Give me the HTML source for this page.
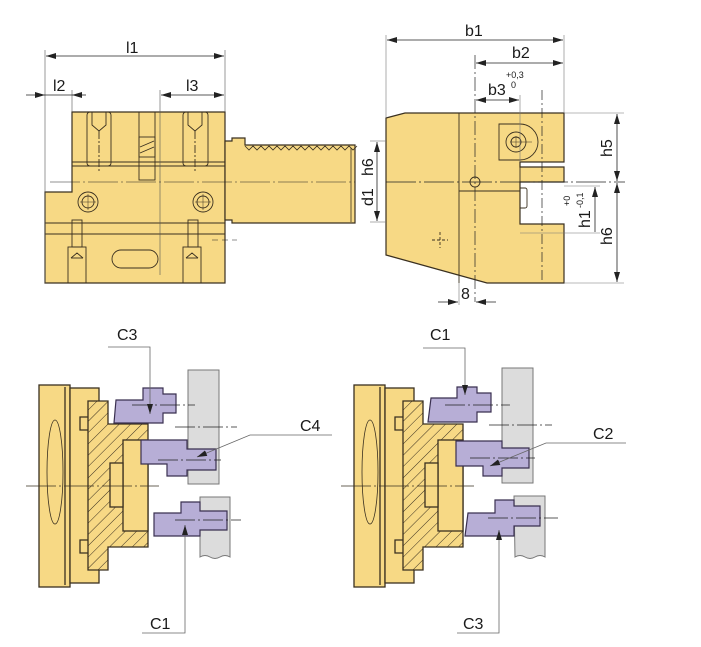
<!DOCTYPE html>
<html><head><meta charset="utf-8"><style>
html,body{margin:0;padding:0;background:#fff}
svg{display:block}
text{font-family:"Liberation Sans",Arial,sans-serif;fill:#1a1a1a}
</style></head><body>
<svg width="701" height="647" viewBox="0 0 701 647" xmlns="http://www.w3.org/2000/svg">
<defs>
<marker id="a" viewBox="0 0 10 6" refX="10" refY="3" markerWidth="10" markerHeight="6" orient="auto-start-reverse" markerUnits="userSpaceOnUse"><path d="M0,0L10,3L0,6z" fill="#222"/></marker>
<pattern id="h" width="8" height="8" patternUnits="userSpaceOnUse" patternTransform="rotate(45)"><rect width="8" height="8" fill="#f7d985"/><line x1="0" y1="0" x2="0" y2="8" stroke="#3a3020" stroke-width="1"/></pattern>
<g id="chuck" stroke="#3a3020" stroke-width="1.3">
 <rect x="39" y="385" width="31" height="202" fill="#f7d985"/>
 <line x1="65" y1="387" x2="65" y2="585"/>
 <rect x="70" y="388" width="29" height="195" fill="#f7d985"/>
 <path d="M88,417H80V430H88M88,540H80V553H88" fill="none"/>
 <path d="M88,401H108V424H148V547H108V570H88Z" fill="url(#h)"/>
 <rect x="123" y="440" width="25" height="91" fill="#f7d985"/>
 <rect x="110" y="463" width="13" height="44" fill="#f7d985"/>
 <line x1="26" y1="486" x2="159" y2="486" stroke-width="0.8" stroke-dasharray="30,3,2,3"/>
 <ellipse cx="55" cy="472" rx="8" ry="52" fill="none" stroke-width="0.8"/>
</g>
</defs>

<!-- ===== TOP LEFT VIEW ===== -->
<g stroke="#3a3020" stroke-width="1.2" fill="#f7d985">
 <path d="M72,112H225V283H45V192H72Z"/>
 <path d="M225,141H232V138H245V145L355,145V223H232V220H225Z"/>
</g>
<path d="M245,146 l4,4 l4,-4 l4,4 l4,-4 l4,4 l4,-4 l4,4 l4,-4 l4,4 l4,-4 l4,4 l4,-4 l4,4 l4,-4 l4,4 l4,-4 l4,4 l4,-4 l4,4 l4,-4 l4,4 l4,-4 l4,4 l4,-4 l4,4 l4,-4 l4,4 l4,-4" fill="none" stroke="#3a3020" stroke-width="0.8"/>
<line x1="351" y1="148" x2="351" y2="222" stroke="#3a3020" stroke-width="0.8"/>
<g stroke="#3a3020" stroke-width="0.9" fill="none">
 <line x1="72" y1="162" x2="225" y2="162"/><line x1="72" y1="166" x2="225" y2="166"/>
 <line x1="45" y1="223" x2="225" y2="223"/><line x1="45" y1="234" x2="225" y2="234"/>
 <rect x="87" y="112" width="24" height="54" rx="3"/><rect x="183" y="112" width="25" height="54" rx="3"/>
 <path d="M92,112V125l7,6l7,-6V112M188,112V125l7,6l7,-6V112"/>
 <line x1="99" y1="131" x2="99" y2="172" stroke-dasharray="8,2,2,2"/><line x1="195" y1="131" x2="195" y2="172" stroke-dasharray="8,2,2,2"/>
 <rect x="139" y="112" width="16" height="68"/><rect x="139" y="137" width="16" height="20"/>
 <path d="M140,147l14,-6M140,153l14,-6"/>
 <circle cx="88" cy="202" r="10"/><circle cx="88" cy="202" r="6"/><circle cx="203" cy="202" r="10"/><circle cx="203" cy="202" r="6"/>
 <path d="M80,202h16M88,194v16M195,202h16M203,194v16" stroke-width="0.5"/>
 <rect x="112" y="250" width="46" height="18" rx="9"/>
 <rect x="68" y="247" width="18" height="36"/><rect x="183" y="247" width="18" height="36"/>
 <rect x="72" y="220" width="10" height="27"/><rect x="188" y="220" width="10" height="27"/>
 <path d="M71,258l6,-5l6,5M186,258l6,-5l6,5"/>
 <line x1="71" y1="258" x2="83" y2="258"/><line x1="186" y1="258" x2="198" y2="258"/>
</g>
<g stroke="#555" stroke-width="0.6" fill="none">
 <line x1="45" y1="50" x2="45" y2="283"/><line x1="225" y1="50" x2="225" y2="112"/>
 <line x1="72" y1="90" x2="72" y2="112"/><line x1="160" y1="90" x2="160" y2="275"/>
 <line x1="50" y1="182" x2="355" y2="182" stroke-dasharray="30,3,2,3" stroke="#222"/>
 <line x1="212" y1="240" x2="237" y2="240" stroke-dasharray="6,4" stroke="#222"/>
</g>
<g stroke="#222" stroke-width="0.8" fill="none">
 <line x1="46" y1="56" x2="224" y2="56" marker-start="url(#a)" marker-end="url(#a)"/>
 <line x1="26" y1="95" x2="45" y2="95" marker-end="url(#a)"/>
 <line x1="72" y1="95" x2="86" y2="95" marker-start="url(#a)"/>
 <line x1="45" y1="95" x2="72" y2="95"/>
 <line x1="161" y1="95" x2="224" y2="95" marker-start="url(#a)" marker-end="url(#a)"/>
</g>
<text x="126" y="53" font-size="16">l1</text>
<text x="53" y="91" font-size="16">l2</text>
<text x="186" y="91" font-size="16">l3</text>

<!-- ===== TOP RIGHT VIEW ===== -->
<path d="M386,118L405,113H564V162H520V167H564V182H520V224H564V283H487L386,255Z" fill="#f7d985" stroke="#3a3020" stroke-width="1.2"/>
<g stroke="#3a3020" stroke-width="0.9" fill="none">
 <line x1="459" y1="113" x2="459" y2="283"/>
 <line x1="459" y1="191" x2="520" y2="191"/>
 <line x1="520" y1="162" x2="520" y2="224"/>
 <path d="M499,124H520a17,17 0 0 1 0,36H499Z"/>
 <circle cx="516" cy="142" r="10"/><circle cx="516" cy="142" r="5"/>
 <path d="M510,142h22M516,136v12" stroke-width="0.5"/>
 <circle cx="475" cy="182" r="5"/>
 <path d="M520,188h5a2,2 0 0 1 2,2v16a2,2 0 0 1 -2,2h-5"/>
 <path d="M432,240h16M440,232v16" stroke-dasharray="3,2"/>
</g>
<g stroke="#222" stroke-width="0.7" fill="none">
 <line x1="475" y1="55" x2="475" y2="302" stroke-dasharray="14,3,2,3"/>
 <line x1="542" y1="90" x2="542" y2="283" stroke-dasharray="10,3,2,3"/>
 <line x1="386" y1="182" x2="625" y2="182" stroke-dasharray="30,3,2,3"/>
</g>
<g stroke="#777" stroke-width="0.6" fill="none">
 <line x1="386" y1="35" x2="386" y2="118"/><line x1="564" y1="35" x2="564" y2="113"/>
 <line x1="520" y1="95" x2="520" y2="162"/>
 <line x1="564" y1="113" x2="624" y2="113"/><line x1="564" y1="283" x2="624" y2="283"/>
 <line x1="520" y1="233" x2="600" y2="233"/><line x1="564" y1="186" x2="600" y2="186"/>
 <line x1="370" y1="141" x2="386" y2="141"/><line x1="370" y1="222" x2="386" y2="222"/>
 <line x1="459" y1="283" x2="459" y2="305"/>
</g>
<g stroke="#222" stroke-width="0.8" fill="none">
 <line x1="387" y1="40" x2="563" y2="40" marker-start="url(#a)" marker-end="url(#a)"/>
 <line x1="476" y1="63" x2="563" y2="63" marker-start="url(#a)" marker-end="url(#a)"/>
 <line x1="476" y1="100" x2="519" y2="100" marker-start="url(#a)" marker-end="url(#a)"/>
 <line x1="617" y1="114" x2="617" y2="181" marker-start="url(#a)" marker-end="url(#a)"/>
 <line x1="617" y1="183" x2="617" y2="282" marker-start="url(#a)" marker-end="url(#a)"/>
 <line x1="595" y1="187" x2="595" y2="232" marker-start="url(#a)"/>
 <line x1="377" y1="142" x2="377" y2="221" marker-start="url(#a)" marker-end="url(#a)"/>
 <line x1="438" y1="302" x2="458" y2="302" marker-end="url(#a)"/>
 <line x1="496" y1="302" x2="476" y2="302" marker-end="url(#a)"/>
</g>
<text x="465" y="36" font-size="16">b1</text>
<text x="512" y="58" font-size="16">b2</text>
<text x="488" y="95" font-size="16">b3</text>
<text x="506" y="78" font-size="9">+0,3</text>
<text x="511" y="88" font-size="9">0</text>
<text x="461" y="299" font-size="16">8</text>
<text font-size="16" transform="translate(612,157) rotate(-90)">h5</text>
<text font-size="16" transform="translate(612,245) rotate(-90)">h6</text>
<text font-size="16" transform="translate(590,228) rotate(-90)">h1</text>
<text font-size="9" transform="translate(570,206) rotate(-90)">+0</text>
<text font-size="9" transform="translate(583,208) rotate(-90)">-0,1</text>
<text font-size="16" transform="translate(373,206) rotate(-90)">d1</text>
<text font-size="16" transform="translate(373,176) rotate(-90)">h6</text>

<!-- ===== BOTTOM LEFT ===== -->
<use href="#chuck"/>
<g stroke="#777" stroke-width="1" fill="#dcdcdc">
 <rect x="188" y="370" width="31" height="114"/>
 <path d="M200,497H230V557q-5,-3 -10,0t-10,0t-10,0Z"/>
</g>
<g stroke="#3a3050" stroke-width="1.2" fill="#b7aed6">
 <path d="M116,400H143V388H163V394H176V413H163V423H114Z"/>
 <path d="M141,440H187V449H216V470H187V476H167V464H141Z"/>
 <path d="M154,513H181V502H200V511H227V530H200V536H154Z"/>
</g>
<g stroke="#222" stroke-width="0.7">
 <line x1="132" y1="405" x2="195" y2="405" stroke-dasharray="20,3,2,3"/>
 <line x1="175" y1="427" x2="237" y2="427" stroke-dasharray="20,3,2,3"/>
 <line x1="158" y1="460" x2="221" y2="460" stroke-dasharray="20,3,2,3"/>
 <line x1="175" y1="520" x2="241" y2="520" stroke-dasharray="20,3,2,3"/>
</g>
<g stroke="#666" stroke-width="0.8" fill="none">
 <path d="M108,347H150V414" marker-end="url(#a)"/>
 <path d="M332,435H250L197,457" marker-end="url(#a)"/>
 <path d="M142,633H185V525" marker-end="url(#a)"/>
</g>
<text x="117" y="340" font-size="16">C3</text>
<text x="300" y="431" font-size="16">C4</text>
<text x="150" y="629" font-size="16">C1</text>

<!-- ===== BOTTOM RIGHT ===== -->
<use href="#chuck" transform="translate(315,0)"/>
<g stroke="#777" stroke-width="1" fill="#dcdcdc">
 <rect x="502" y="368" width="31" height="115"/>
 <path d="M514,496H545V557q-5,-3 -10,0t-10,0t-10,0Z"/>
</g>
<g stroke="#3a3050" stroke-width="1.2" fill="#b7aed6">
 <path d="M431,398H457V387H477V393H491V412H477V422H428Z"/>
 <path d="M456,441H502V448H529V468H502V476H483V466H456Z"/>
 <path d="M468,513H495V500H514V506H540V526H514V536H465Z"/>
</g>
<g stroke="#222" stroke-width="0.7">
 <line x1="445" y1="405" x2="510" y2="405" stroke-dasharray="20,3,2,3"/>
 <line x1="489" y1="425" x2="552" y2="425" stroke-dasharray="20,3,2,3"/>
 <line x1="470" y1="458" x2="535" y2="458" stroke-dasharray="20,3,2,3"/>
 <line x1="488" y1="518" x2="558" y2="518" stroke-dasharray="20,3,2,3"/>
</g>
<g stroke="#666" stroke-width="0.8" fill="none">
 <path d="M423,348H465V395" marker-end="url(#a)"/>
 <path d="M626,443H546L490,466" marker-end="url(#a)"/>
 <path d="M457,633H499V530" marker-end="url(#a)"/>
</g>
<text x="430" y="340" font-size="16">C1</text>
<text x="593" y="439" font-size="16">C2</text>
<text x="463" y="629" font-size="16">C3</text>
</svg>
</body></html>
